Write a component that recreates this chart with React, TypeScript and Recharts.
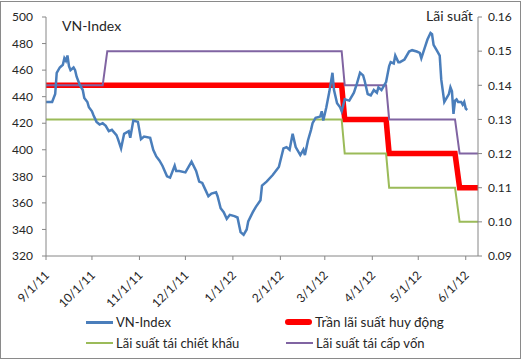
import { LineChart, Line, XAxis, YAxis } from 'recharts';

// x positions are day offsets from 9/1/11
const tickDays = [0, 30, 61, 91, 122, 153, 182, 213, 243, 274];
const tickLabels = ['9/1/11', '10/1/11', '11/1/11', '12/1/11', '1/1/12', '2/1/12', '3/1/12', '4/1/12', '5/1/12', '6/1/12'];
const leftTicks = [320, 340, 360, 380, 400, 420, 440, 460, 480, 500];
const rightTicks = [0.09, 0.1, 0.11, 0.12, 0.13, 0.14, 0.15, 0.16];

// VN-Index
const vnDays = [
  0, 4, 6, 7, 9, 11, 12, 13, 14, 15, 16, 18, 19, 20, 22, 24, 25, 27, 28, 30,
  31, 33, 35, 37, 39, 41, 43, 46, 47, 49, 51, 54, 55, 57, 60, 62, 64, 68, 70, 72,
  74, 76, 79, 81, 84, 85, 87, 91, 94, 95, 98, 100, 102, 104, 106, 108, 111, 112, 114, 116,
  118, 120, 123, 125, 127, 129, 131, 132, 135, 137, 140, 141, 144, 148, 152, 155, 157, 159, 161, 163,
  166, 168, 169, 171, 173, 174, 176, 179, 180, 181, 183, 185, 187, 188, 190, 192, 193, 195, 198, 201,
  203, 205, 207, 208, 210, 212, 214, 216, 217, 219, 221, 222, 224, 225, 227, 228, 230, 231, 234, 237,
  239, 242, 244, 245, 247, 249, 251, 252, 253, 255, 257, 258, 260, 263, 264, 265, 266, 267, 268, 269,
  271, 272, 273, 274, 275,
];
const vnIndex = [
  436, 436, 442, 458, 462, 464, 469, 467, 471, 463, 460, 462, 460, 455, 449, 445, 439, 436, 432, 429,
  426, 421, 419, 420, 418, 414, 415, 411, 408, 401, 412, 414, 409, 422, 421, 408, 410, 409, 400, 395,
  392, 388, 380, 379, 388, 384, 384, 383, 389, 391, 384, 376, 375, 370, 365, 367, 368, 365, 356, 353,
  348, 351, 350, 349, 338, 336, 340, 346, 353, 357, 362, 373, 376, 381, 387, 401, 402, 400, 412, 402,
  396, 400, 396, 407, 415, 420, 424, 425, 429, 422, 432, 444, 458, 445, 435, 432, 429, 438, 437, 443,
  450, 458, 456, 452, 442, 441, 445, 443, 447, 445, 449, 451, 463, 466, 465, 471, 466, 466, 468, 474,
  475, 474, 473, 469, 476, 483, 488, 487, 479, 475, 471, 453, 436, 442, 447, 444, 427, 437, 438, 436,
  436, 434, 436, 431, 430,
];

// Trần lãi suất huy động
const capDays = [0, 193, 195, 222, 224, 267, 270, 282];
const capRates = [0.14, 0.14, 0.13, 0.13, 0.12, 0.12, 0.11, 0.11];

// Lãi suất tái chiết khấu
const discountDays = [0, 193, 195, 222, 224, 267, 270, 282];
const discountRates = [0.13, 0.13, 0.12, 0.12, 0.11, 0.11, 0.1, 0.1];

// Lãi suất tái cấp vốn
const refiDays = [0, 37, 40, 193, 195, 222, 224, 267, 270, 282];
const refiRates = [0.14, 0.14, 0.15, 0.15, 0.14, 0.14, 0.13, 0.13, 0.12, 0.12];

const toRows = (days: number[], vals: number[]) => days.map((d, i) => ({ d, v: vals[i] }));

const vnData = toRows(vnDays, vnIndex);
const capData = toRows(capDays, capRates);
const discountData = toRows(discountDays, discountRates);
const refiData = toRows(refiDays, refiRates);

const colors = {
  vn: '#4a7ebb',
  cap: '#ff0000',
  discount: '#9bbb59',
  refi: '#8064a2',
  axis: '#868686',
  text: '#262626',
};

const FONT = 'Lato, "Open Sans", sans-serif';

const DateTick = (props: any) => {
  const { x, y, payload } = props;
  const idx = tickDays.indexOf(payload.value);
  const ax = x + 4;
  const ay = y + 14;
  return (
    <text
      x={ax}
      y={ay}
      textAnchor="end"
      fontSize={12}
      fontFamily={FONT}
      fill={colors.text}
      transform={`rotate(-45 ${ax} ${ay})`}
    >
      {idx >= 0 ? tickLabels[idx] : ''}
    </text>
  );
};

const legendItems = [
  { name: 'VN-Index', color: colors.vn, width: 3, x: 86, y: 322, size: 13 },
  { name: 'Trần lãi suất huy động', color: colors.cap, width: 6, x: 285, y: 322, size: 13.5 },
  { name: 'Lãi suất tái chiết khấu', color: colors.discount, width: 2.5, x: 86, y: 343, size: 13 },
  { name: 'Lãi suất tái cấp vốn', color: colors.refi, width: 2.5, x: 286, y: 343, size: 13 },
];

export default function App() {
  return (
    <div style={{ position: 'absolute', left: 0, top: 0, width: 523, height: 360, background: '#fff', fontFamily: FONT }}>
      <div style={{ position: 'absolute', left: 0, top: 1, width: 519, height: 356, border: '1px solid #8a8a8a' }} />
      <LineChart width={523} height={360} margin={{ top: 17, right: 5, bottom: 0, left: 0 }}>
        <XAxis
          dataKey="d"
          type="number"
          domain={[0, 282]}
          ticks={tickDays}
          interval={0}
          height={104}
          tickSize={4}
          tickMargin={2}
          stroke={colors.axis}
          tick={<DateTick />}
        />
        <YAxis
          yAxisId="left"
          domain={[320, 500]}
          ticks={leftTicks}
          width={46}
          tickSize={4}
          tickMargin={9}
          stroke={colors.axis}
          tick={{ fill: colors.text, fontSize: 12, fontFamily: FONT }}
        />
        <YAxis
          yAxisId="right"
          orientation="right"
          domain={[0.09, 0.16]}
          ticks={rightTicks}
          width={40}
          tickSize={4}
          tickMargin={6}
          stroke={colors.axis}
          tickFormatter={(v: number) => v.toFixed(2)}
          tick={{ fill: colors.text, fontSize: 12, fontFamily: FONT }}
        />
        <Line data={capData} dataKey="v" yAxisId="right" stroke={colors.cap} strokeWidth={5.5} dot={false} isAnimationActive={false} />
        <Line data={discountData} dataKey="v" yAxisId="right" stroke={colors.discount} strokeWidth={2} dot={false} isAnimationActive={false} />
        <Line data={refiData} dataKey="v" yAxisId="right" stroke={colors.refi} strokeWidth={2} dot={false} isAnimationActive={false} />
        <Line data={vnData} dataKey="v" yAxisId="left" stroke={colors.vn} strokeWidth={2.5} dot={false} isAnimationActive={false} />
      </LineChart>
      <div style={{ position: 'absolute', left: 62, top: 17, fontSize: 14, color: colors.text }}>VN-Index</div>
      <div style={{ position: 'absolute', left: 426, top: 7, fontSize: 14, color: colors.text }}>Lãi suất</div>
      {legendItems.map((it) => (
        <div key={it.name} style={{ position: 'absolute', left: it.x, top: it.y - 12, height: 24, display: 'flex', alignItems: 'center' }}>
          <div style={{ width: 27, height: it.width, background: it.color, borderRadius: it.width > 4 ? 3 : 0 }} />
          <span style={{ marginLeft: 3, fontSize: it.size, color: colors.text, whiteSpace: 'nowrap' }}>{it.name}</span>
        </div>
      ))}
    </div>
  );
}
